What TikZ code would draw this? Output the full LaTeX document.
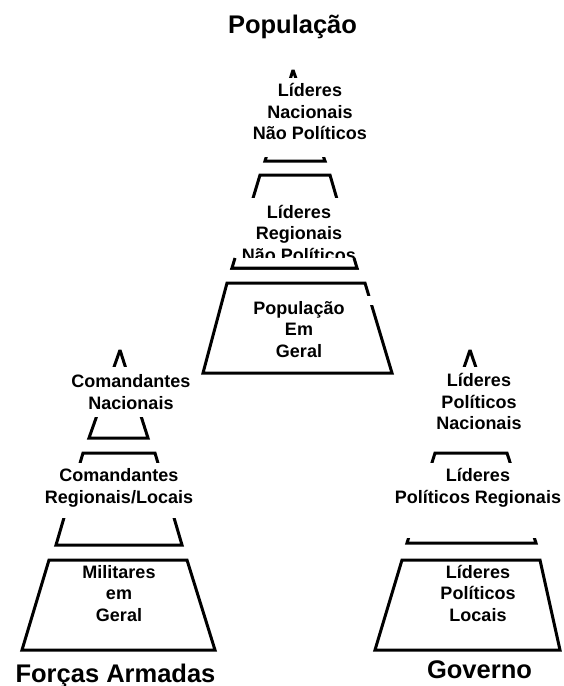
\documentclass[tikz,border=0pt]{standalone}
\usepackage{fontspec}
\setmainfont{Liberation Sans}
\tikzset{
  seg/.style={draw=black, line width=3pt, line join=miter, miter limit=2},
  wbox/.style={fill=white, draw=none},
  lbl/.style={font=\fontsize{18}{21.5}\selectfont\bfseries, align=center, inner sep=0pt, anchor=north},
  ttl/.style={font=\fontsize{25.5}{30}\selectfont\bfseries, inner sep=0pt, anchor=base}
}
\newcommand{\topstrut}{\rule{0pt}{14pt}}
\begin{document}
\begin{tikzpicture}[x=1pt,y=-1pt]
\useasboundingbox[fill=white] (0,0) rectangle (563,686);

% ---------- Top pyramid: População ----------
\draw[seg] (265,161) -- (293,70) -- (325,161) -- cycle;
\draw[seg] (232,268) -- (260,175) -- (330,175) -- (357,268) -- cycle;
\draw[seg] (203,373) -- (227,283) -- (365,283) -- (392,373) -- cycle;
\fill[wbox] (240,78) rectangle (380,157);
\fill[wbox] (226,198) rectangle (370,258);
\fill[wbox] (364,296) rectangle (377,305);
\node[lbl] (t1) at (310,82.7) {\topstrut Líderes\\Nacionais\\Não Políticos};
\node[lbl] (t2) at (299,204) {\topstrut Líderes\\Regionais\\Não Políticos};
\fill[wbox] (226,258) rectangle (370,268);
\draw[seg] (235,258) -- (232,268) -- (357,268) -- (354,258);
\node[lbl] (t3) at (299,300) {\topstrut População\\Em\\Geral};
\node[ttl] (pop) at (292.5,33) {População};

% ---------- Left pyramid: Forças Armadas ----------
\draw[seg] (89,438) -- (120,350) -- (148,438) -- cycle;
\draw[seg] (56,545) -- (83,453) -- (155,453) -- (182,545) -- cycle;
\draw[seg] (22,650) -- (49,560) -- (187,560) -- (215,650) -- cycle;
\fill[wbox] (62,367) rectangle (198,417);
\fill[wbox] (38,463) rectangle (200,518);
\node[lbl] (l1) at (131,373.5) {\topstrut Comandantes\\Nacionais};
\node[lbl] (l2) at (119,467.7) {\topstrut Comandantes\\Regionais/Locais};
\node[lbl] (l3) at (119,564) {\topstrut Militares\\em\\Geral};
\node[ttl] (fa) at (115.5,682) {Forças Armadas};

% ---------- Right pyramid: Governo ----------
\draw[seg] (440,438) -- (470,350) -- (500,438) -- cycle;
\draw[seg] (407,543) -- (435,453) -- (507,453) -- (536,543) -- cycle;
\draw[seg] (375,650) -- (402,560) -- (540,560) -- (560,650) -- cycle;
\fill[wbox] (420,367) rectangle (540,443);
\fill[wbox] (392,463) rectangle (563,538);
\node[lbl] (r1) at (479,372.7) {\topstrut Líderes\\Políticos\\Nacionais};
\node[lbl] (r2) at (478,467.7) {\topstrut Líderes\\Políticos Regionais};
\node[lbl] (r3) at (478,564) {\topstrut Líderes\\Políticos\\Locais};
\node[ttl] (gov) at (479.5,678) {Governo};
\end{tikzpicture}
\end{document}
